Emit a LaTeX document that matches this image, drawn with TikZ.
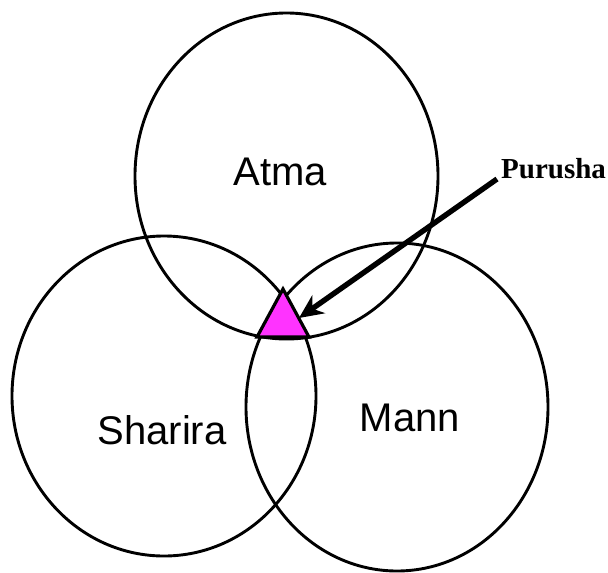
\documentclass[tikz,border=0pt]{standalone}
\usepackage{fontspec}
\setmainfont{Liberation Sans}
\newfontfamily\serifbold{Liberation Serif}
\usetikzlibrary{shapes.geometric,arrows.meta}
\definecolor{trimag}{HTML}{FF33FF}
\begin{document}
\begin{tikzpicture}[x=1pt,y=-1pt,
  ring/.style={draw=black,line width=2.9pt,ellipse,inner sep=0pt,outer sep=0pt},
  lbl/.style={font=\fontsize{40}{40}\selectfont,inner sep=0pt},
  pointer/.style={line width=5.4pt,-{Stealth[length=24pt,width=22pt]}}]
\useasboundingbox (0,0) rectangle (608,573);
\node[ring,minimum width=303pt,minimum height=326pt] (atma) at (286.5,176) {};
\node[ring,minimum width=304pt,minimum height=320pt] (sharira) at (164,396) {};
\node[ring,minimum width=302pt,minimum height=328pt] (mann) at (397,407) {};
\coordinate (ta) at (283,289);
\coordinate (tl) at (257,337);
\coordinate (tr) at (309,337);
\fill[trimag] (ta) -- (tl) -- (tr) -- cycle;
\draw[line width=3.2pt,line join=miter] (ta) -- (tl) -- (tr) -- cycle;
\node[lbl] (atmalbl) at (280,172) {Atma};
\node[lbl] (sharlbl) at (162,430) {Sharira};
\node[lbl] (mannlbl) at (410,418) {Mann};
\node[font=\serifbold\bfseries\fontsize{29}{29}\selectfont,inner sep=0pt,anchor=west] (purusha) at (501,169) {Purusha};
\coordinate (tip) at (299,318);
\coordinate (tail) at (497,179);
\draw[pointer] (tail) -- (tip);
\end{tikzpicture}
\end{document}
